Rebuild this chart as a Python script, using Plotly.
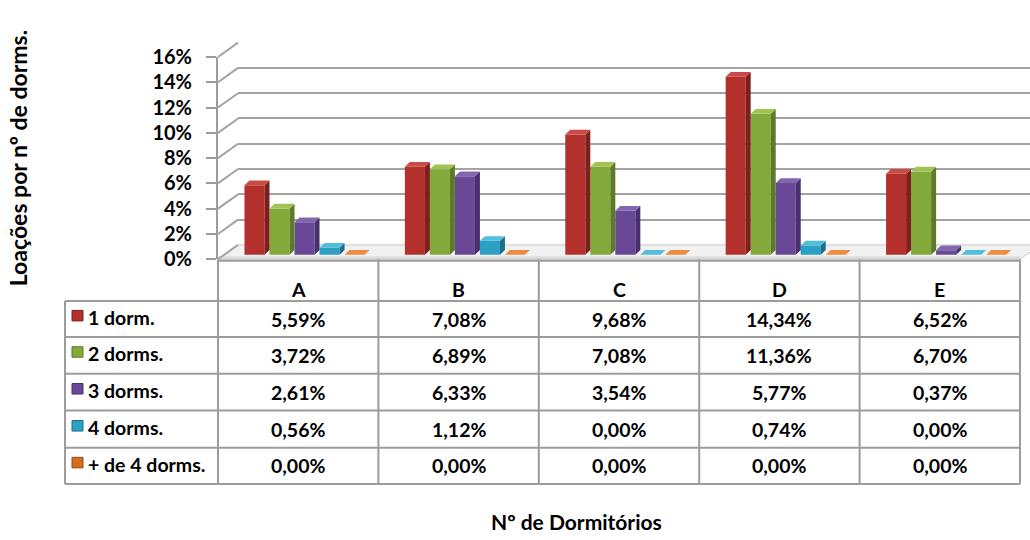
import plotly.graph_objects as go

# ---- data -------------------------------------------------------------
categories = ["A", "B", "C", "D", "E"]
series_names = ["1 dorm.", "2 dorms.", "3 dorms.", "4 dorms.", "+ de 4 dorms."]
dorm1 = [5.59, 7.08, 9.68, 14.34, 6.52]
dorm2 = [3.72, 6.89, 7.08, 11.36, 6.70]
dorm3 = [2.61, 6.33, 3.54, 5.77, 0.37]
dorm4 = [0.56, 1.12, 0.00, 0.74, 0.00]
dorm5 = [0.00, 0.00, 0.00, 0.00, 0.00]
series_values = [dorm1, dorm2, dorm3, dorm4, dorm5]
y_ticks = [0, 2, 4, 6, 8, 10, 12, 14, 16]

y_title = "Loações por nº de dorms."
x_title = "Nº de Dormitórios"

# face colours per series: front, top, side
front_colors = ["#B3302D", "#84A93B", "#684897", "#2BA0C3", "#D56D1F"]
top_colors = ["#CC4A46", "#A0C454", "#8366AF", "#52BEDA", "#EC8C40"]
side_colors = ["#7D1F1D", "#5D7B26", "#46316B", "#1C6F8A", "#954A10"]

# ---- layout geometry (pixels) -----------------------------------------
W, H = 1030, 540
FONT = "Lato"
GRID = "#A3A3A3"
TABLE_LINE = "#9C9C9C"
TEXT_SIZE = 19.5

PLOT_L, PLOT_R = 218, 1020          # front edge of the floor / table columns
FRONT_Y0, FRONT_Y16 = 257.7, 46     # front value axis: 0% and 16%
WALL_DX, WALL_DY = 20, 15           # depth of the back wall
BAR_BASE_PX, BAR_PX_PER_UNIT = 253.0, 13.0

TABLE_L = 65
HEADER_BOTTOM = 301.5
ROW_BOTTOMS = [339, 377.5, 416, 455, 493]

# bar placement inside each category (in category units)
BAR_START, BAR_STEP, BAR_W = -0.335, 0.156, 0.125
DEPTH_X, DEPTH_Y = 0.031, 0.38


def fx(px):
    return px / W


def fy(py):
    return 1 - py / H


def front_px(v):
    return FRONT_Y0 + (FRONT_Y16 - FRONT_Y0) * v / 16.0


def cat_px(c):
    return PLOT_L + (c + 0.5) * (PLOT_R - PLOT_L) / len(categories)


def text(x, y, s, size=TEXT_SIZE, xanchor="center", angle=0):
    return dict(x=fx(x), y=fy(y), xref="paper", yref="paper", text=s,
                showarrow=False, xanchor=xanchor, yanchor="middle", textangle=angle,
                font=dict(family=FONT, size=size, color="black", weight="bold"))


fig = go.Figure()

# back wall subplot (gridlines only)
fig.add_trace(go.Scatter(x=[None], y=[None], xaxis="x", yaxis="y",
                         showlegend=False, hoverinfo="skip"))
# front value axis subplot
fig.add_trace(go.Scatter(x=[None], y=[None], xaxis="x2", yaxis="y2",
                         showlegend=False, hoverinfo="skip"))

shapes = []
annotations = []

# bars: front faces as bar traces, top and side faces as shapes
for k, (name, vals) in enumerate(zip(series_names, series_values)):
    off = BAR_START + k * BAR_STEP
    fig.add_trace(go.Bar(
        x=list(range(len(categories))), y=vals, name=name,
        offset=off, width=BAR_W, xaxis="x2", yaxis="y3",
        marker=dict(color=front_colors[k], line=dict(width=0)),
        showlegend=False, hoverinfo="skip",
    ))
    for i, v in enumerate(vals):
        x0 = i + off
        x1 = x0 + BAR_W
        top = (f"M {x0},{v} L {x1},{v} L {x1 + DEPTH_X},{v + DEPTH_Y} "
               f"L {x0 + DEPTH_X},{v + DEPTH_Y} Z")
        side = (f"M {x1},0 L {x1},{v} L {x1 + DEPTH_X},{v + DEPTH_Y} "
                f"L {x1 + DEPTH_X},{DEPTH_Y} Z")
        shapes.append(dict(type="path", path=side, xref="x2", yref="y3",
                           fillcolor=side_colors[k], line=dict(width=0),
                           layer="above"))
        shapes.append(dict(type="path", path=top, xref="x2", yref="y3",
                           fillcolor=top_colors[k], line=dict(width=0),
                           layer="above"))

# floor
floor = (f"M {fx(PLOT_L)},{fy(FRONT_Y0)} L {fx(PLOT_R)},{fy(FRONT_Y0)} "
         f"L {fx(PLOT_R + WALL_DX)},{fy(FRONT_Y0 - WALL_DY)} "
         f"L {fx(PLOT_L + WALL_DX)},{fy(FRONT_Y0 - WALL_DY)} Z")
shapes.append(dict(type="path", path=floor, xref="paper", yref="paper",
                   fillcolor="#F1F1F1", line=dict(color="#C8C8C8", width=1),
                   layer="below"))
shapes.append(dict(type="rect", xref="paper", yref="paper",
                   x0=fx(PLOT_L), x1=fx(PLOT_R), y0=fy(FRONT_Y0 + 1), y1=fy(FRONT_Y0 - 3),
                   fillcolor="#D8D8D8", line=dict(width=0), layer="below"))

# side wall: connectors from the front ticks to the back wall gridlines
for v in y_ticks:
    yf = front_px(v)
    shapes.append(dict(type="line", xref="paper", yref="paper",
                       x0=fx(PLOT_L), y0=fy(yf), x1=fx(PLOT_L + WALL_DX), y1=fy(yf - WALL_DY),
                       line=dict(color=GRID, width=2), layer="below"))

# data table grid
table_bottom = ROW_BOTTOMS[-1]
shapes.append(dict(type="line", xref="paper", yref="paper",
                   x0=fx(PLOT_L), x1=fx(PLOT_R), y0=fy(FRONT_Y0 + 1.5), y1=fy(FRONT_Y0 + 1.5),
                   line=dict(color=TABLE_LINE, width=2)))
for c in range(len(categories) + 1):
    xb = PLOT_L + c * (PLOT_R - PLOT_L) / len(categories)
    shapes.append(dict(type="line", xref="paper", yref="paper",
                       x0=fx(xb), x1=fx(xb), y0=fy(FRONT_Y0), y1=fy(table_bottom),
                       line=dict(color=TABLE_LINE, width=2)))
shapes.append(dict(type="line", xref="paper", yref="paper",
                   x0=fx(TABLE_L), x1=fx(TABLE_L), y0=fy(HEADER_BOTTOM), y1=fy(table_bottom),
                   line=dict(color=TABLE_LINE, width=2)))
for yb in [HEADER_BOTTOM] + ROW_BOTTOMS:
    shapes.append(dict(type="line", xref="paper", yref="paper",
                       x0=fx(TABLE_L), x1=fx(PLOT_R), y0=fy(yb), y1=fy(yb),
                       line=dict(color=TABLE_LINE, width=2)))

# category header
for i, cat in enumerate(categories):
    annotations.append(text(cat_px(i), 289, cat))

# rows: legend key, series name and values
row_tops = [HEADER_BOTTOM] + ROW_BOTTOMS[:-1]
for k, (name, vals) in enumerate(zip(series_names, series_values)):
    yc = (row_tops[k] + ROW_BOTTOMS[k]) / 2
    shapes.append(dict(type="rect", xref="paper", yref="paper",
                       x0=fx(72), x1=fx(83), y0=fy(yc - 9), y1=fy(yc + 2),
                       fillcolor=front_colors[k], line=dict(color=side_colors[k], width=1)))
    annotations.append(text(86, yc - 2, name, xanchor="left"))
    for i, v in enumerate(vals):
        label = f"{v:.2f}".replace(".", ",") + "%"
        annotations.append(text(cat_px(i), yc, label))

# axis titles
annotations.append(text(18, 152, y_title, size=23, angle=-90))
annotations.append(text(576, 532, x_title, size=21))

bar_range_lo = -(FRONT_Y0 - BAR_BASE_PX) / BAR_PX_PER_UNIT
bar_range_hi = bar_range_lo + (FRONT_Y0 - FRONT_Y16) / BAR_PX_PER_UNIT

hidden = dict(visible=False, showgrid=False, zeroline=False)

fig.update_layout(
    width=W, height=H,
    margin=dict(l=0, r=0, t=0, b=0),
    paper_bgcolor="white",
    plot_bgcolor="rgba(0,0,0,0)",
    barmode="overlay",
    showlegend=False,
    # back wall
    xaxis=dict(domain=[fx(PLOT_L + WALL_DX), 1], range=[0, 1], **hidden),
    yaxis=dict(domain=[fy(FRONT_Y0 - WALL_DY), fy(FRONT_Y16 - WALL_DY)], range=[0, 16],
               anchor="x", tickvals=y_ticks, showgrid=True, gridcolor=GRID, gridwidth=2,
               showticklabels=False, ticks="", zeroline=False, showline=False),
    # front value axis
    xaxis2=dict(domain=[fx(PLOT_L), fx(PLOT_R)], range=[-0.5, len(categories) - 0.5],
                anchor="y2", **hidden),
    yaxis2=dict(domain=[fy(FRONT_Y0), fy(FRONT_Y16)], range=[0, 16], anchor="x2",
                tickvals=y_ticks, ticktext=[f"{t}%" for t in y_ticks],
                ticks="outside", ticklen=10, tickwidth=2, tickcolor=TABLE_LINE,
                showline=True, linecolor=TABLE_LINE, linewidth=2,
                showgrid=False, zeroline=False, ticklabelstandoff=10,
                tickfont=dict(family=FONT, size=20, color="black", weight="bold")),
    # bars
    yaxis3=dict(overlaying="y2", range=[bar_range_lo, bar_range_hi], anchor="x2", **hidden),
    shapes=shapes,
    annotations=annotations,
)

fig.write_html("out.html")
